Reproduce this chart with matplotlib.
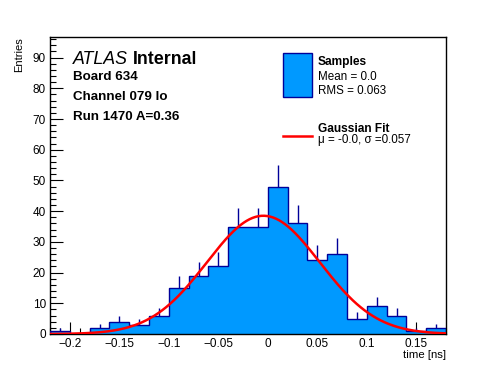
import numpy as np
import matplotlib
matplotlib.use("Agg")
import matplotlib.pyplot as plt
from matplotlib.ticker import MultipleLocator
from matplotlib.patches import Rectangle
from matplotlib.lines import Line2D

plt.rcParams['font.family'] = ['Liberation Sans', 'DejaVu Sans']

# Data
bin_edges = [-0.22, -0.20, -0.18, -0.16, -0.14, -0.12, -0.10, -0.08, -0.06, -0.04, -0.02,
             0.00, 0.02, 0.04, 0.06, 0.08, 0.10, 0.12, 0.14, 0.16, 0.18]
counts = [1, 0, 2, 4, 3, 6, 15, 19, 22, 35, 35, 48, 36, 24, 26, 5, 9, 6, 1, 2]
fit_amp = 38.5
fit_mu = -0.0045
fit_sigma = 0.057
xtick_vals = [-0.2, -0.15, -0.1, -0.05, 0, 0.05, 0.1, 0.15]
xtick_labels = ['\u22120.2', '\u22120.15', '\u22120.1', '\u22120.05', '0', '0.05', '0.1', '0.15']

fill_c = '#0099ff'
edge_c = '#000099'

fig = plt.figure(figsize=(4.96, 3.72), dpi=100)
ax = fig.add_axes([50/496, 38/372, 396/496, 297/372])

edges = np.array(bin_edges)
vals = np.array(counts, dtype=float)
centers = 0.5 * (edges[:-1] + edges[1:])

ax.stairs(vals, edges, fill=True, color=fill_c, zorder=2)
ax.stairs(vals, edges, color=edge_c, lw=1.0, zorder=3)
mask = vals > 0
ax.vlines(centers[mask], vals[mask], vals[mask] + np.sqrt(vals[mask]),
          color=edge_c, lw=1.0, zorder=3)

xf = np.linspace(edges[0], edges[-1], 400)
yf = fit_amp * np.exp(-0.5 * ((xf - fit_mu) / fit_sigma) ** 2)
ax.plot(xf, yf, color='#ff0000', lw=1.8, zorder=4)

ax.set_xlim(-0.22, 0.18)
ax.set_ylim(0, 96.7)

ax.xaxis.set_minor_locator(MultipleLocator(0.01))
ax.yaxis.set_major_locator(MultipleLocator(10))
ax.yaxis.set_minor_locator(MultipleLocator(2))
ax.tick_params(which='both', direction='in', top=False, right=False, labelsize=8.5, pad=3)
ax.tick_params(which='major', length=9, width=0.8)
ax.tick_params(which='minor', length=4.5, width=0.8)
ax.set_xticks(xtick_vals)
ax.set_xticklabels(xtick_labels)
for s in ax.spines.values():
    s.set_linewidth(1.0)

fig.text(446/496, 1 - 358/372, 'time [ns]', ha='right', va='baseline', fontsize=8.2)
fig.text(19/496, 1 - 37/372, 'Entries', ha='center', va='top', rotation=90, fontsize=8)

# ATLAS label
t = fig.text(73/496, 1 - 63.5/372, 'ATLAS', fontsize=12.8, style='italic', va='baseline')
fig.canvas.draw()
bb = t.get_window_extent()
fig.text((bb.x1 + 5) / 496, 1 - 63.5/372, 'Internal', fontsize=12.8, weight='bold', va='baseline')
fig.text(73/496, 1 - 80.5/372, 'Board 634', fontsize=9.6, weight='bold', va='baseline')
fig.text(73/496, 1 - 100/372, 'Channel 079 lo', fontsize=9.6, weight='bold', va='baseline')
fig.text(73/496, 1 - 119.5/372, 'Run 1470 A=0.36', fontsize=9.6, weight='bold', va='baseline')

# Legend
fig.add_artist(Rectangle((283/496, 1 - 97/372), 29/496, 44/372, transform=fig.transFigure,
                         facecolor=fill_c, edgecolor=edge_c, lw=1.0))
fig.add_artist(Line2D([283/496, 312/496], [1 - 136/372, 1 - 136/372], transform=fig.transFigure,
                      color='#ff0000', lw=1.8))
fig.text(318/496, 1 - 65/372, 'Samples', fontsize=8.6, weight='bold', va='baseline')
fig.text(318/496, 1 - 80/372, 'Mean = 0.0', fontsize=8.4, va='baseline')
fig.text(318/496, 1 - 93.5/372, 'RMS = 0.063', fontsize=8.4, va='baseline')
fig.text(318/496, 1 - 132.5/372, 'Gaussian Fit', fontsize=8.6, weight='bold', va='baseline')
fig.text(318/496, 1 - 143.5/372, '\u03bc = -0.0, \u03c3 =0.057', fontsize=8.4, va='baseline')

fig.savefig('out.png', dpi=100)
